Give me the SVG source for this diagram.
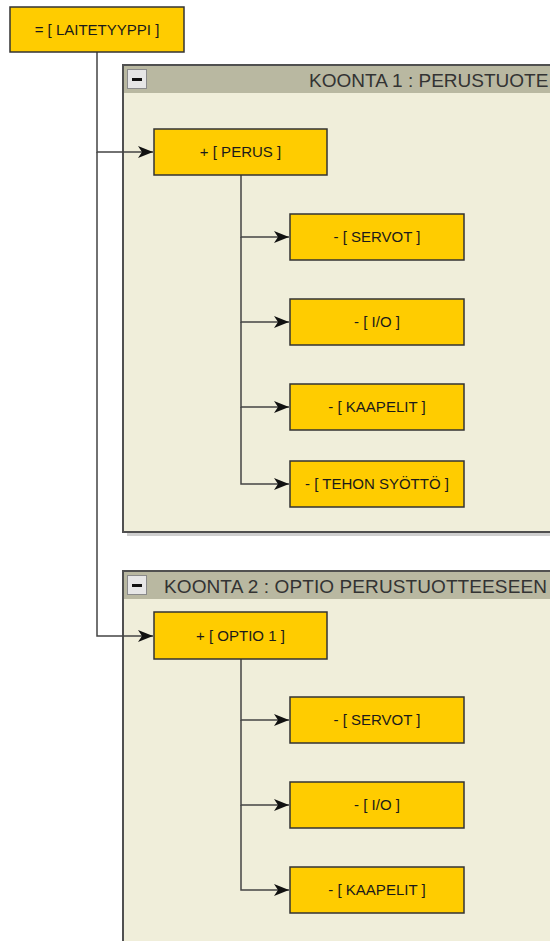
<svg xmlns="http://www.w3.org/2000/svg" width="550" height="941" viewBox="0 0 550 941">
<style>
  .node{fill:#FFCC00;stroke:#333;stroke-width:1.5}
  .lbl{font-family:"Liberation Sans",Arial,sans-serif;font-size:15px;fill:#1A1A1A;text-anchor:middle}
  .cont{fill:#F0EEDA;stroke:#505050;stroke-width:2}
  .hdr{fill:#B9B8A1}
  .title{font-family:"Liberation Sans",Arial,sans-serif;font-size:19px;fill:#333}
  .btn{fill:#E6E6E6;stroke:#8A8A8A;stroke-width:1}
  .conn{fill:none;stroke:#444;stroke-width:1.5}
</style>
<defs>
  <marker id="arr" markerUnits="userSpaceOnUse" markerWidth="16" markerHeight="14" refX="15" refY="7" orient="auto">
    <path d="M0,1 L15,7 L0,13 L4,7 z" fill="#111"/>
  </marker>
</defs>
<rect width="550" height="941" fill="#FFFFFF"/>

<g id="koonta1">
  <rect x="127" y="69" width="440" height="467" fill="#CFCFCF"/>
  <rect class="cont" x="123" y="65" width="440" height="467"/>
  <rect class="hdr" x="124" y="66" width="438" height="27"/>
  <rect class="btn" x="127.5" y="69.5" width="19" height="19"/>
  <rect x="132" y="78" width="10" height="3" fill="#111"/>
  <text class="title" x="309" y="87">KOONTA 1 : PERUSTUOTE</text>
</g>

<g id="koonta2">
  <rect class="cont" x="123" y="571" width="440" height="380"/>
  <rect class="hdr" x="124" y="572" width="438" height="27"/>
  <rect class="btn" x="127.5" y="575.5" width="19" height="19"/>
  <rect x="132" y="584" width="10" height="3" fill="#111"/>
  <text class="title" x="164" y="593" letter-spacing="0.1">KOONTA 2 : OPTIO PERUSTUOTTEESEEN</text>
</g>

<g id="connectors">
  <path class="conn" d="M97,52 V152 H153" marker-end="url(#arr)"/>
  <path class="conn" d="M97,152 V636 H153" marker-end="url(#arr)"/>
  <path class="conn" d="M241,175 V237 H289" marker-end="url(#arr)"/>
  <path class="conn" d="M241,237 V322 H289" marker-end="url(#arr)"/>
  <path class="conn" d="M241,322 V407 H289" marker-end="url(#arr)"/>
  <path class="conn" d="M241,407 V484 H289" marker-end="url(#arr)"/>
  <path class="conn" d="M241,659 V720 H289" marker-end="url(#arr)"/>
  <path class="conn" d="M241,720 V805 H289" marker-end="url(#arr)"/>
  <path class="conn" d="M241,805 V890 H289" marker-end="url(#arr)"/>
</g>

<g id="laitetyyppi">
  <rect class="node" x="10" y="7" width="174" height="45"/>
  <text class="lbl" x="97" y="35">= [ LAITETYYPPI ]</text>
</g>
<g id="perus">
  <rect class="node" x="154" y="129" width="173" height="46"/>
  <text class="lbl" x="240.5" y="157">+ [ PERUS ]</text>
</g>
<g id="servot1">
  <rect class="node" x="290" y="214" width="174" height="46"/>
  <text class="lbl" x="377" y="242">- [ SERVOT ]</text>
</g>
<g id="io1">
  <rect class="node" x="290" y="299" width="174" height="46"/>
  <text class="lbl" x="377" y="327">- [ I/O ]</text>
</g>
<g id="kaapelit1">
  <rect class="node" x="290" y="384" width="174" height="46"/>
  <text class="lbl" x="377" y="412">- [ KAAPELIT ]</text>
</g>
<g id="tehon">
  <rect class="node" x="290" y="461" width="174" height="46"/>
  <text class="lbl" x="377" y="489">- [ TEHON SYÖTTÖ ]</text>
</g>
<g id="optio1">
  <rect class="node" x="154" y="612" width="173" height="47"/>
  <text class="lbl" x="240.5" y="641">+ [ OPTIO 1 ]</text>
</g>
<g id="servot2">
  <rect class="node" x="290" y="697" width="174" height="46"/>
  <text class="lbl" x="377" y="725">- [ SERVOT ]</text>
</g>
<g id="io2">
  <rect class="node" x="290" y="782" width="174" height="46"/>
  <text class="lbl" x="377" y="810">- [ I/O ]</text>
</g>
<g id="kaapelit2">
  <rect class="node" x="290" y="867" width="174" height="46"/>
  <text class="lbl" x="377" y="895">- [ KAAPELIT ]</text>
</g>
</svg>
